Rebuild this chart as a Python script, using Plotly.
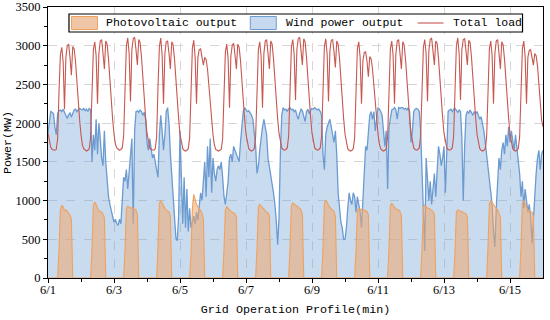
import plotly.graph_objects as go

# ---------------- data (hourly, 6/1 00:00 -> 6/16 00:00) ----------------
day_labels = ["6/1", "6/3", "6/5", "6/7", "6/9", "6/11", "6/13", "6/15"]
series_names = ["Photovoltaic output", "Wind power output", "Total load"]

wind_days = [
    [1870, 2050, 2150, 2140, 2120, 1950, 1850, 2120, 2160, 2170, 2150, 2180, 2140, 2100, 2060, 2110, 2130, 2080, 2120, 2170, 2180, 2150, 2170, 2190],
    [2180, 2170, 2190, 2160, 2180, 2150, 2190, 2170, 1500, 1850, 1650, 2050, 1600, 2000, 1800, 1550, 1450, 1900, 1500, 1250, 1050, 950, 880, 800],
    [720, 760, 700, 680, 760, 700, 1100, 1300, 1250, 1400, 1150, 1350, 1550, 1800, 700, 1900, 2150, 2160, 2140, 2170, 2150, 2100, 2140, 2050],
    [1750, 1650, 1800, 1700, 1550, 1600, 1500, 1350, 1300, 1850, 2100, 1900, 1650, 1850, 2150, 2200, 2000, 1600, 1300, 1000, 780, 520, 480, 800],
    [1900, 1350, 700, 1300, 650, 1150, 600, 900, 650, 720, 800, 700, 850, 750, 900, 1100, 1000, 1300, 1500, 1050, 1700, 1300, 1800, 1100],
    [1550, 1350, 1250, 1400, 1450, 1400, 1500, 1300, 1050, 950, 1100, 1250, 1550, 1600, 1500, 1700, 1650, 1600, 1550, 1500, 1750, 2000, 2150, 2200],
    [2170, 2150, 2160, 2130, 2100, 2050, 1850, 1700, 1350, 1450, 1650, 1850, 1950, 2050, 1950, 1850, 1550, 1450, 1350, 1250, 1100, 950, 750, 430],
    [770, 1600, 2100, 2200, 2170, 2180, 2150, 2190, 2200, 2170, 2180, 2150, 2170, 2100, 2050, 2130, 2180, 2160, 2100, 2020, 2150, 2180, 2120, 2170],
    [2190, 2180, 2200, 2190, 2170, 2180, 2150, 2100, 1600, 1400, 1850, 1950, 2000, 2050, 1950, 1850, 1750, 1900, 1600, 1100, 850, 720, 650, 500],
    [500, 650, 900, 1100, 1000, 950, 1100, 1050, 850, 1050, 950, 850, 650, 1000, 1450, 1700, 1650, 1950, 2100, 2150, 2050, 2150, 1900, 2050],
    [2200, 2180, 2150, 2100, 1900, 1700, 1900, 1150, 1950, 2100, 2170, 2180, 2200, 2170, 2050, 2200, 2190, 2200, 2200, 2180, 2190, 2170, 2200, 2150],
    [1750, 1900, 2150, 2180, 2190, 2180, 2150, 1900, 1450, 950, 350, 1550, 1300, 1000, 1250, 950, 1150, 1350, 1050, 1450, 1700, 1600, 1450, 1550],
    [1700, 1100, 1650, 2150, 2170, 2180, 2150, 2180, 2190, 2170, 2140, 2170, 2150, 1800, 1000, 1700, 2100, 2150, 2130, 2170, 2140, 2100, 2150, 2120],
    [2150, 2100, 2050, 2080, 2000, 1900, 1750, 1600, 1450, 1300, 1150, 950, 600, 400, 900, 1300, 1550, 1400, 1650, 1750, 1600, 1850, 1700, 1950],
    [1750, 1900, 1800, 1650, 1850, 1700, 1500, 1350, 1050, 1250, 900, 1150, 1000, 850, 950, 800, 450, 800, 1100, 1350, 1550, 1650, 1400, 1600],
]
wind_end = 1650

pv_days = [
    [0, 0, 0, 0, 0, 0, 0, 0, 350, 880, 940, 920, 870, 880, 860, 840, 810, 760, 0, 0, 0, 0, 0, 0],
    [0, 0, 0, 0, 0, 0, 0, 0, 380, 940, 980, 950, 900, 870, 860, 850, 820, 780, 0, 0, 0, 0, 0, 0],
    [0, 0, 0, 0, 0, 0, 0, 0, 360, 900, 930, 920, 900, 910, 900, 890, 880, 820, 0, 0, 0, 0, 0, 0],
    [0, 0, 0, 0, 0, 0, 0, 0, 400, 960, 1000, 960, 920, 900, 880, 860, 850, 800, 0, 0, 0, 0, 0, 0],
    [0, 0, 0, 0, 0, 0, 0, 0, 300, 900, 1080, 1000, 950, 920, 900, 870, 840, 760, 0, 0, 0, 0, 0, 0],
    [0, 0, 0, 0, 0, 0, 0, 0, 360, 880, 920, 900, 870, 860, 850, 840, 830, 790, 0, 0, 0, 0, 0, 0],
    [0, 0, 0, 0, 0, 0, 0, 0, 380, 920, 950, 930, 900, 880, 860, 850, 840, 800, 0, 0, 0, 0, 0, 0],
    [0, 0, 0, 0, 0, 0, 0, 0, 380, 930, 970, 950, 940, 930, 920, 900, 880, 820, 0, 0, 0, 0, 0, 0],
    [0, 0, 0, 0, 0, 0, 0, 0, 400, 960, 1000, 980, 940, 910, 890, 880, 860, 800, 0, 0, 0, 0, 0, 0],
    [0, 0, 0, 0, 0, 0, 0, 0, 350, 870, 900, 890, 880, 870, 880, 870, 860, 820, 0, 0, 0, 0, 0, 0],
    [0, 0, 0, 0, 0, 0, 0, 0, 380, 930, 965, 940, 910, 890, 880, 880, 860, 800, 0, 0, 0, 0, 0, 0],
    [0, 0, 0, 0, 0, 0, 0, 0, 370, 910, 940, 920, 900, 900, 890, 880, 860, 820, 0, 0, 0, 0, 0, 0],
    [0, 0, 0, 0, 0, 0, 0, 0, 340, 850, 880, 870, 860, 860, 850, 840, 830, 790, 0, 0, 0, 0, 0, 0],
    [0, 0, 0, 0, 0, 0, 0, 0, 400, 960, 1000, 970, 940, 920, 900, 880, 840, 780, 0, 0, 0, 0, 0, 0],
    [0, 0, 0, 0, 0, 0, 0, 0, 400, 960, 1000, 960, 900, 880, 870, 860, 850, 800, 0, 0, 0, 0, 0, 0],
]
pv_end = 0

load_days = [
    [1870, 1760, 1690, 1660, 1650, 1650, 1660, 1800, 2400, 2880, 2980, 2800, 2180, 2850, 3000, 3020, 2850, 2620, 2990, 2960, 2800, 2520, 2260, 2040],
    [1850, 1720, 1670, 1650, 1640, 1650, 1670, 1820, 2450, 2950, 3050, 2870, 2250, 2900, 3060, 3080, 2900, 2700, 3060, 3020, 2830, 2540, 2270, 2050],
    [1860, 1730, 1680, 1660, 1650, 1660, 1680, 1830, 2480, 3000, 3100, 2900, 2280, 2950, 3090, 3110, 2950, 2750, 3080, 3040, 2850, 2560, 2290, 2070],
    [1870, 1740, 1680, 1660, 1650, 1650, 1670, 1820, 2460, 2990, 3100, 2880, 2250, 2900, 3050, 3060, 2900, 2700, 3050, 3010, 2830, 2540, 2270, 2060],
    [1860, 1730, 1670, 1650, 1640, 1650, 1670, 1810, 2440, 2970, 3070, 2850, 2250, 2850, 2950, 2960, 2850, 2750, 2850, 2820, 2700, 2480, 2240, 2040],
    [1850, 1720, 1660, 1650, 1640, 1650, 1660, 1800, 2420, 2920, 3020, 2830, 2200, 2870, 3010, 3030, 2880, 2700, 3020, 2980, 2810, 2530, 2260, 2050],
    [1860, 1730, 1670, 1650, 1640, 1650, 1670, 1820, 2450, 2950, 3050, 2860, 2200, 2900, 3060, 3080, 2900, 2700, 3060, 3020, 2830, 2540, 2270, 2060],
    [1870, 1740, 1680, 1660, 1650, 1660, 1680, 1830, 2470, 2980, 3080, 2890, 2300, 2950, 3090, 3110, 2940, 2750, 3090, 3050, 2850, 2560, 2290, 2070],
    [1870, 1740, 1680, 1660, 1650, 1660, 1680, 1830, 2470, 2990, 3090, 2890, 2280, 2930, 3070, 3080, 2920, 2720, 3060, 3020, 2840, 2550, 2280, 2060],
    [1860, 1730, 1670, 1650, 1640, 1650, 1670, 1810, 2450, 2960, 3050, 2850, 2250, 2800, 2910, 2920, 2800, 2600, 2860, 2830, 2700, 2480, 2240, 2040],
    [1860, 1730, 1670, 1650, 1640, 1650, 1670, 1820, 2450, 2960, 3060, 2870, 2250, 2900, 3060, 3080, 2900, 2700, 3050, 3010, 2830, 2540, 2270, 2060],
    [1870, 1740, 1680, 1660, 1650, 1660, 1680, 1830, 2470, 2980, 3080, 2890, 2280, 2940, 3080, 3100, 2930, 2750, 3060, 3030, 2840, 2550, 2280, 2070],
    [1870, 1740, 1680, 1660, 1650, 1660, 1680, 1830, 2480, 3000, 3100, 2900, 2300, 2950, 3080, 3090, 2930, 2750, 3070, 3040, 2850, 2560, 2290, 2070],
    [1860, 1730, 1670, 1650, 1640, 1650, 1670, 1820, 2450, 2960, 3060, 2870, 2250, 2900, 3060, 3080, 2900, 2700, 3050, 3010, 2830, 2540, 2270, 2060],
    [1860, 1730, 1670, 1650, 1640, 1650, 1670, 1820, 2450, 2960, 3060, 2860, 2250, 2850, 2940, 2950, 2850, 2750, 2900, 2870, 2740, 2500, 2260, 2040],
]
load_end = 1950

# ---------------- assemble series ----------------
wind = [v for d in wind_days for v in d] + [wind_end]
pv = [v for d in pv_days for v in d] + [pv_end]
load = [v for d in load_days for v in d] + [load_end]
hours = list(range(len(load)))

major_ticks = list(range(0, 15 * 24, 48))
minor_ticks = list(range(24, 15 * 24, 48))

mono = "Liberation Mono"
serif = "Liberation Serif"

PV_LINE, PV_FILL, PV_SWATCH = "#f0a15e", "rgba(240,165,108,0.55)", "#efc7a6"
WIND_LINE, WIND_FILL, WIND_SWATCH = "#6b9bd1", "rgba(112,160,212,0.38)", "#c6d9ee"
LOAD_LINE = "#c85750"

fig = go.Figure()
fig.add_trace(go.Scatter(
    x=hours, y=wind, name=series_names[1], mode="lines",
    line=dict(color=WIND_LINE, width=1.3), fill="tozeroy", fillcolor=WIND_FILL,
))
fig.add_trace(go.Scatter(
    x=hours, y=pv, name=series_names[0], mode="lines",
    line=dict(color=PV_LINE, width=1.1), fill="tozeroy", fillcolor=PV_FILL,
))
fig.add_trace(go.Scatter(
    x=hours, y=load, name=series_names[2], mode="lines",
    line=dict(color=LOAD_LINE, width=1.1),
))

# plot box at window x 48..543.5, y 7..278 (page body margin removed below)
W, H = 550, 320
ML, MR, MT, MB = 48, 6.5, 7, 42
PW, PH = W - ML - MR, H - MT - MB


def px(xw):
    return (xw - ML) / PW


def py(yw):
    return 1 - (yw - MT) / PH


# ---------------- legend box (drawn as layout decoration) ----------------
shapes = [
    dict(type="rect", xref="paper", yref="paper", x0=px(69), x1=px(523), y0=py(32), y1=py(14),
         fillcolor="white", line=dict(color="black", width=1.2), layer="above"),
    dict(type="rect", xref="paper", yref="paper", x0=px(71.5), x1=px(97.5), y0=py(29.5), y1=py(16.5),
         fillcolor=PV_SWATCH, line=dict(color=PV_LINE, width=1), layer="above"),
    dict(type="rect", xref="paper", yref="paper", x0=px(250.5), x1=px(276.5), y0=py(29.5), y1=py(16.5),
         fillcolor=WIND_SWATCH, line=dict(color=WIND_LINE, width=1), layer="above"),
    dict(type="line", xref="paper", yref="paper", x0=px(418), x1=px(444), y0=py(23), y1=py(23),
         line=dict(color=LOAD_LINE, width=1.1), layer="above"),
]
legend_font = dict(family=mono, size=11.5, color="black")
annotations = [
    dict(text=series_names[0], x=px(104), y=py(23), xref="paper", yref="paper",
         xanchor="left", yanchor="middle", showarrow=False, font=legend_font),
    dict(text=series_names[1], x=px(284), y=py(23), xref="paper", yref="paper",
         xanchor="left", yanchor="middle", showarrow=False, font=legend_font),
    dict(text=series_names[2], x=px(451), y=py(23), xref="paper", yref="paper",
         xanchor="left", yanchor="middle", showarrow=False, font=legend_font),
]

fig.update_layout(
    width=W, height=H,
    margin=dict(l=ML, r=MR, t=MT, b=MB, autoexpand=False),
    paper_bgcolor="white", plot_bgcolor="white",
    showlegend=False,
    shapes=shapes, annotations=annotations,
)
fig.update_xaxes(
    range=[0, 360], tickmode="array", tickvals=major_ticks, ticktext=day_labels,
    ticks="outside", ticklen=4, tickcolor="black", tickwidth=1,
    minor=dict(tickmode="array", tickvals=minor_ticks, ticks="outside", ticklen=3,
               tickcolor="black", showgrid=False),
    ticklabelstandoff=-4,
    showline=True, linecolor="black", linewidth=1, mirror=True,
    showgrid=True, gridcolor="#d6d6d6", griddash="dash", gridwidth=1,
    zeroline=False,
    tickfont=dict(family=serif, size=12.5, color="black"),
    title=dict(text="Grid Operation Profile(min)", standoff=8,
               font=dict(family=mono, size=11.7, color="black")),
)
fig.update_yaxes(
    range=[0, 3500], dtick=500, tick0=0,
    ticks="outside", ticklen=4, tickcolor="black", tickwidth=1,
    minor=dict(dtick=250, ticks="outside", ticklen=3, tickcolor="black", showgrid=False),
    showline=True, linecolor="black", linewidth=1, mirror=True,
    showgrid=True, gridcolor="#d6d6d6", griddash="dash", gridwidth=1,
    zeroline=False,
    tickfont=dict(family=serif, size=12.5, color="black"),
    title=dict(text="Power(MW)", standoff=0,
               font=dict(family=mono, size=11.7, color="black")),
)

fig.write_html(
    "out.html",
    config={"displayModeBar": False},
    post_script="document.body.style.margin='0px';document.body.style.overflow='hidden';",
)
